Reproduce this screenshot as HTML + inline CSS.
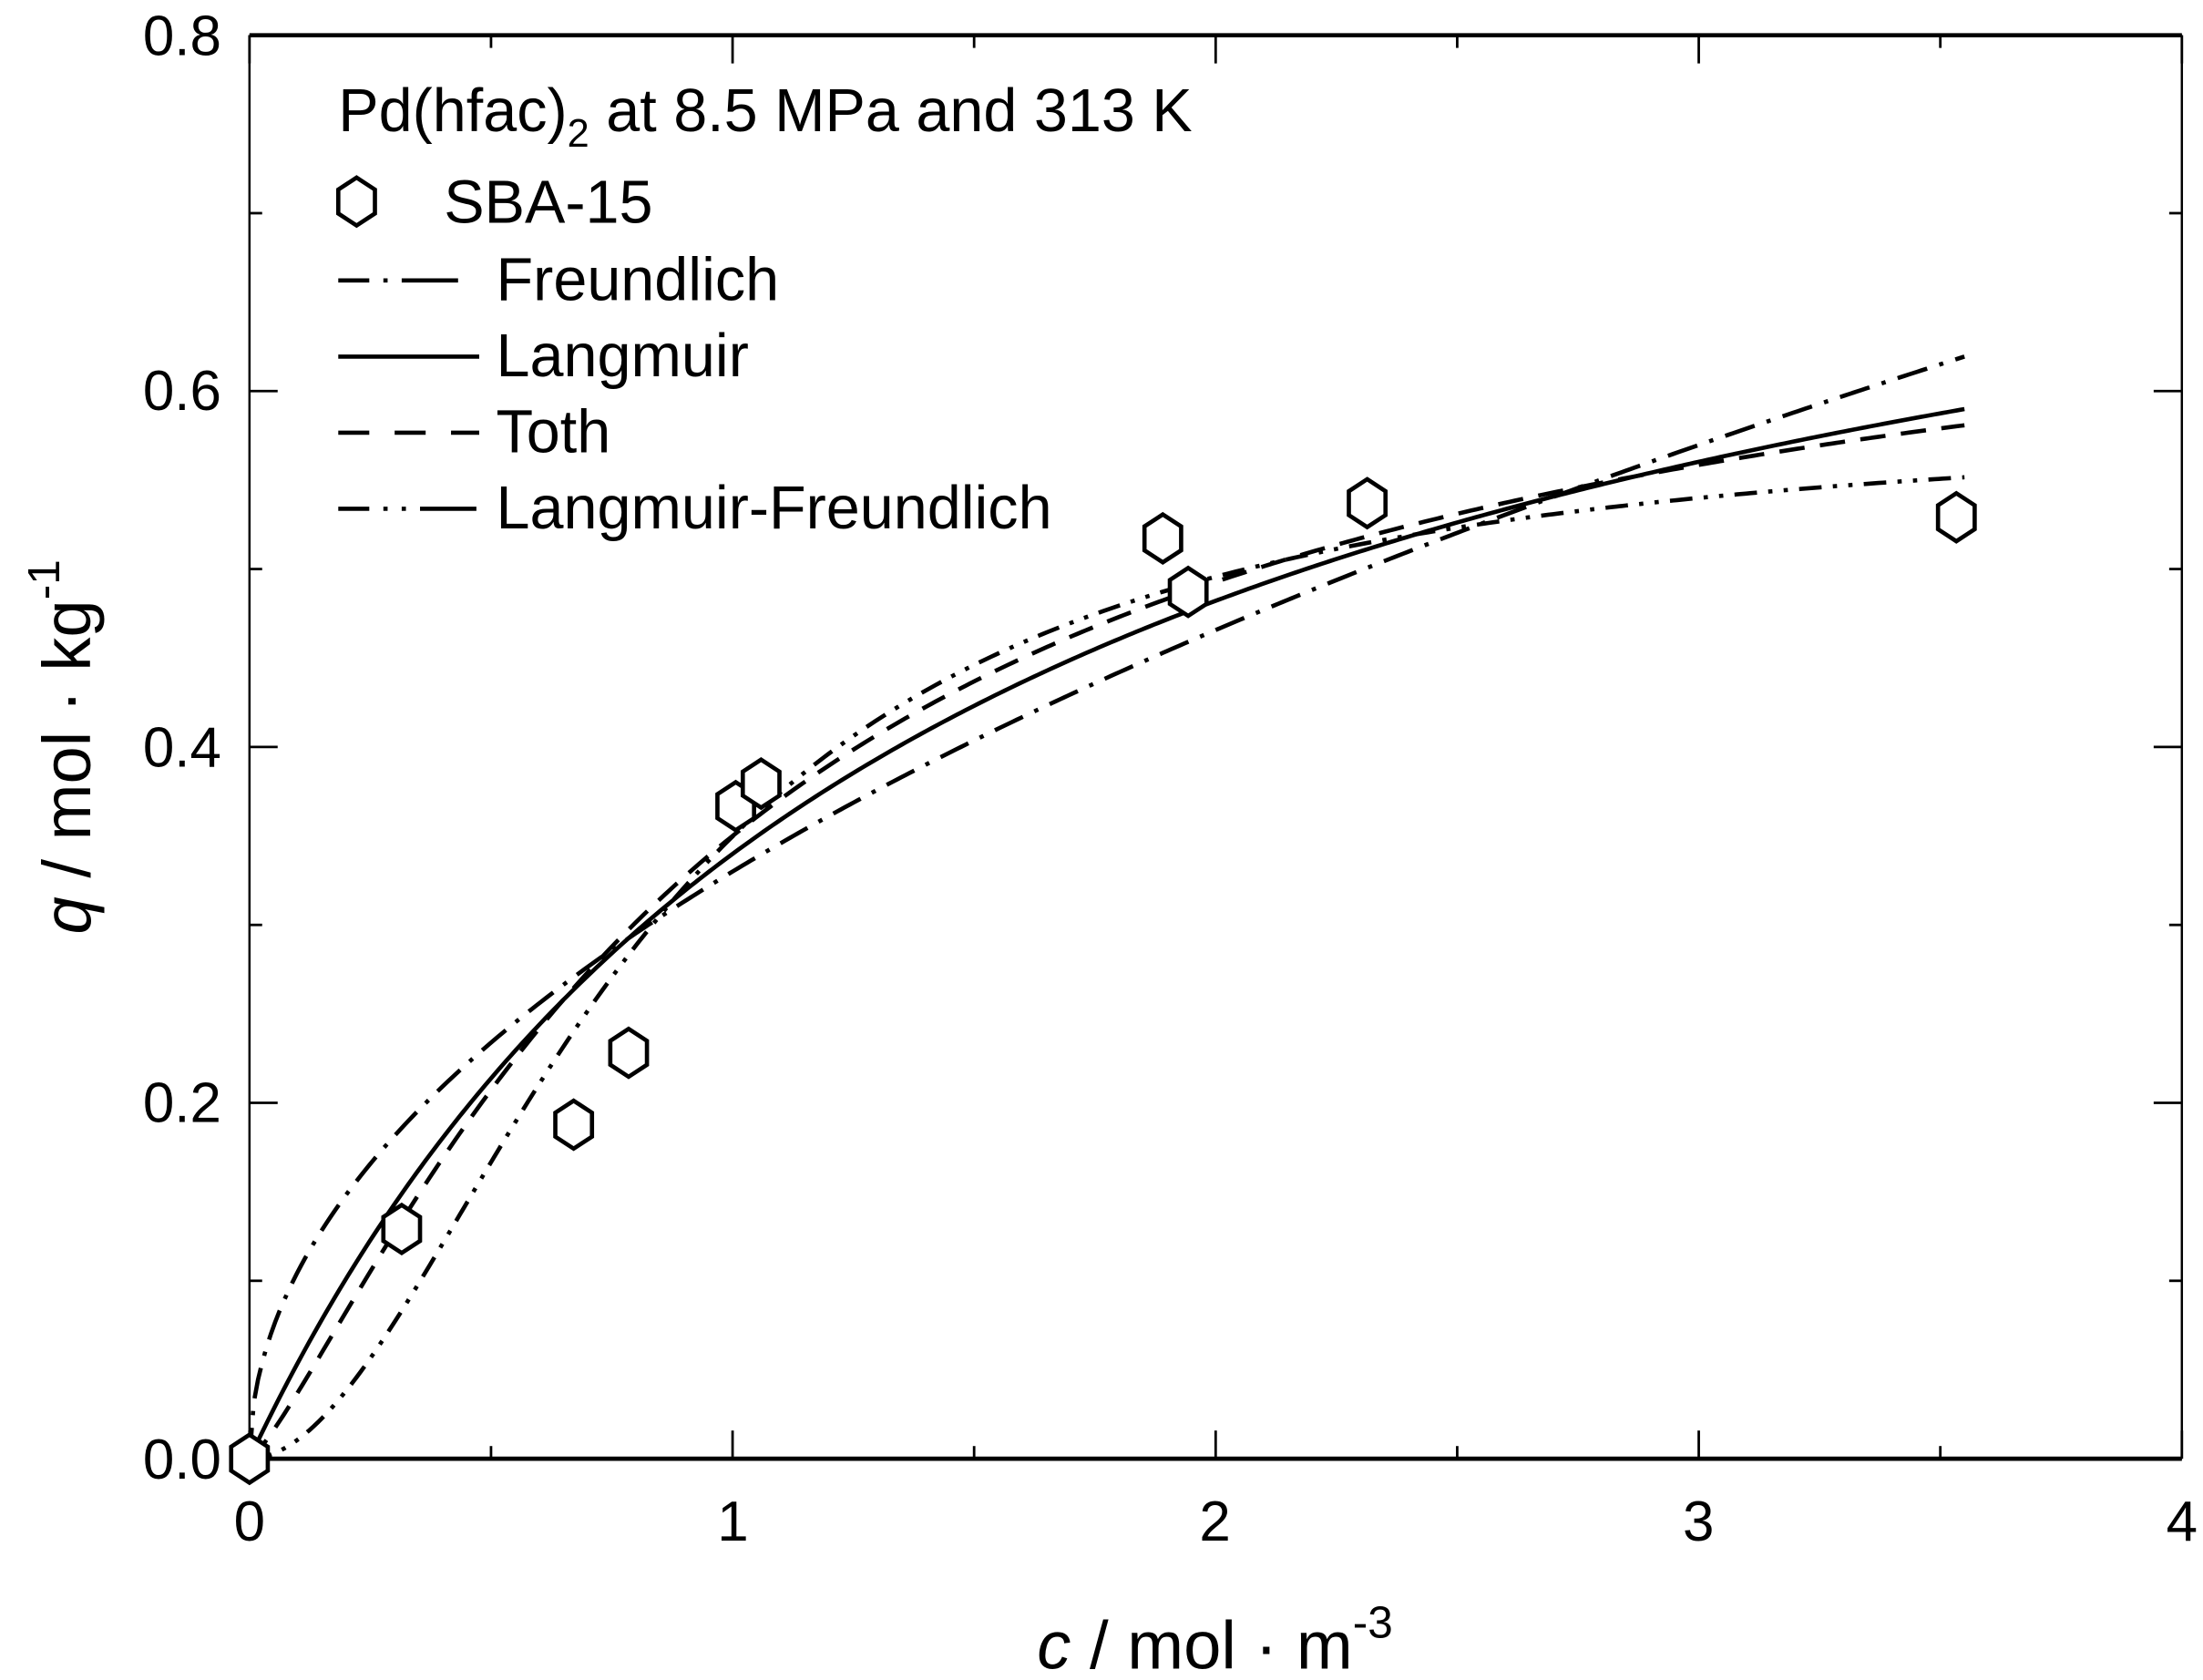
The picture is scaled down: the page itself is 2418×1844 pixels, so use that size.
<!DOCTYPE html>
<html><head><meta charset="utf-8"><style>
html,body{margin:0;padding:0;background:#fff;width:2418px;height:1844px;overflow:hidden}
svg{display:block}
text{font-family:"Liberation Sans",Arial,sans-serif;fill:#000}
</style></head><body>
<svg id="s" width="2418" height="1844" viewBox="0 0 1563 1192" preserveAspectRatio="none" xmlns="http://www.w3.org/2000/svg">
<g id="ticks" stroke="#000" stroke-width="1.8" fill="none"></g>
<line x1="177" y1="1035" x2="1548" y2="1035" stroke="#000" stroke-width="3"/>
<line x1="177" y1="25" x2="1548" y2="25" stroke="#000" stroke-width="3"/>
<line x1="177" y1="25" x2="177" y2="1035" stroke="#000" stroke-width="1.6"/>
<line x1="1548" y1="25" x2="1548" y2="1035" stroke="#000" stroke-width="1.6"/>
<g font-size="40" text-anchor="end">
<text x="157" y="1049">0.0</text><text x="157" y="796">0.2</text><text x="157" y="544">0.4</text><text x="157" y="291">0.6</text><text x="157" y="39">0.8</text>
</g>
<g font-size="40" text-anchor="middle">
<text x="177" y="1093">0</text><text x="520" y="1093">1</text><text x="862" y="1093">2</text><text x="1205" y="1093">3</text><text x="1548" y="1093">4</text>
</g>
<text x="862" y="1184" font-size="48" text-anchor="middle"><tspan font-style="italic">c</tspan> / mol · m<tspan font-size="32" dy="-22">-3</tspan></text>
<text transform="translate(64,530) rotate(-90)" font-size="48" text-anchor="middle"><tspan font-style="italic">q</tspan> / mol · kg<tspan font-size="32" dy="-22">-1</tspan></text>
<g font-size="43">
<text x="240" y="93">Pd(hfac)<tspan font-size="28" dy="11">2</tspan><tspan dy="-11"> at 8.5 MPa and 313 K</tspan></text>
<text x="315" y="158">SBA-15</text>
<text x="352" y="213">Freundlich</text>
<text x="352" y="267">Langmuir</text>
<text x="352" y="321">Toth</text>
<text x="352" y="375">Langmuir-Freundlich</text>
</g>
<g stroke="#000" stroke-width="3" fill="none">
<line x1="240" y1="199" x2="340" y2="199" stroke-dasharray="22,10,3,10,40"/>
<line x1="240" y1="253" x2="340" y2="253"/>
<line x1="240" y1="307" x2="340" y2="307" stroke-dasharray="22,18"/>
<line x1="240" y1="361" x2="340" y2="361" stroke-dasharray="22,10,3,10,3,10,40"/>
<path id="pF" stroke-dasharray="22,9,3,9"/>
<path id="pL"/>
<path id="pT" stroke-dasharray="18,11"/>
<path id="pLF" stroke-dasharray="16,8,3,8,3,8"/>
</g>
<g id="pts" stroke="#000" stroke-width="3" fill="#fff"></g>
</svg>
<script>
var X=c=>177+342.75*c, Y=q=>1035-1262.5*q;
function path(f,id){var d="";for(var i=0;i<=400;i++){var c=i/400*3.55;var q=f(c);d+=(i?"L":"M")+X(c).toFixed(2)+" "+Y(q).toFixed(2);}document.getElementById(id).setAttribute("d",d);}
path(c=>0.33*Math.pow(c,0.497),"pF");
path(c=>0.829*0.695*c/(1+0.695*c),"pL");
path(c=>{var x=Math.pow(c,1.25);return 0.7*x/(1+x)},"pT");
path(c=>{var x=Math.pow(1.232*c,1.9);return 0.585*x/(1+x)},"pLF");
var t=document.getElementById("ticks"),h="";
for(var i=0;i<=8;i++){var x=177+i*171.375,L=i%2?9:20;h+='<line x1="'+x+'" y1="1035" x2="'+x+'" y2="'+(1035-L)+'"/><line x1="'+x+'" y1="25" x2="'+x+'" y2="'+(25+L)+'"/>';}
for(var i=0;i<=8;i++){var y=1035-i*126.25,L=i%2?9:20;h+='<line x1="177" y1="'+y+'" x2="'+(177+L)+'" y2="'+y+'"/><line x1="1548" y1="'+y+'" x2="'+(1548-L)+'" y2="'+y+'"/>';}
t.innerHTML=h;
var P=[[177,1035],[285,872],[407,798],[446,747],[522,572],[540,556],[825,382],[843,420],[970,357],[1388,367],[253,143]],g="";
P.forEach(p=>{var a=p[0],b=p[1],w=13,hh=17;g+='<polygon points="'+a+','+(b-hh)+' '+(a+w)+','+(b-hh/2)+' '+(a+w)+','+(b+hh/2)+' '+a+','+(b+hh)+' '+(a-w)+','+(b+hh/2)+' '+(a-w)+','+(b-hh/2)+'"/>';});
document.getElementById("pts").innerHTML=g;
</script>
</body></html>
